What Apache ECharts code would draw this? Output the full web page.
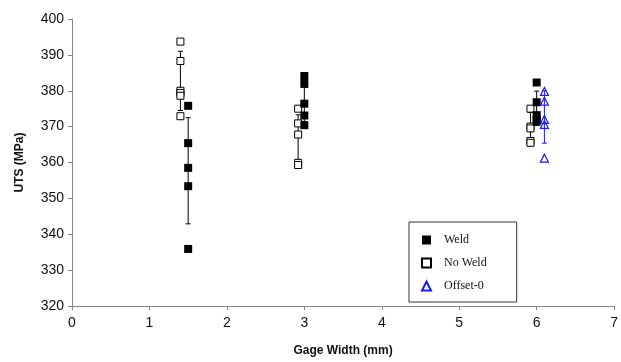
<!DOCTYPE html>
<html>
<head>
<meta charset="utf-8">
<script src="https://cdn.jsdelivr.net/npm/echarts@6/dist/echarts.min.js"></script>
<style>html,body{margin:0;padding:0;background:#fff;}#c{width:621px;height:362px;}</style>
</head>
<body>
<div id="c"></div>
<script>
// Data
const weldX = [1.5, 3.0, 6.0];
const weld15 = [375.8, 365.4, 358.5, 353.4, 335.9];
const weld30 = [384.1, 381.9, 376.4, 373.1, 370.4];
const weld60 = [382.3, 376.8, 373.2, 372.0, 371.4];
const weldBarLow = [342.9, 371.4, 370.3];
const weldBarHigh = [372.5, 383.0, 379.9];

const noWeldX = [1.4, 2.92, 5.92];
const noWeld14 = [393.7, 388.3, 380.0, 379.4, 378.6, 372.9];
const noWeld29 = [375.0, 370.9, 367.8, 359.9, 359.3];
const noWeld59 = [375.0, 370.0, 369.5, 366.0, 365.5];
const noWeldBarLow = [374.5, 359.8, 365.5];
const noWeldBarHigh = [391.0, 373.3, 374.0];

const offsetX = [6.1];
const offset61 = [379.8, 377.1, 372.0, 370.6, 361.2];
const offsetBarLow = [365.4];
const offsetBarHigh = [380.0];

const xTicks = [0, 1, 2, 3, 4, 5, 6, 7];
const yTicks = [320, 330, 340, 350, 360, 370, 380, 390, 400];

function pts(xs, groups) {
  const out = [];
  groups.forEach((g, i) => g.forEach(v => out.push([xs[i], v])));
  return out;
}
function bars(xs, lo, hi) {
  return xs.map((x, i) => [x, lo[i], hi[i]]);
}
function errRender(color) {
  return function (params, api) {
    const x = api.value(0);
    const lo = api.coord([x, api.value(1)]);
    const hi = api.coord([x, api.value(2)]);
    const w = 2.5;
    const st = { stroke: color, lineWidth: 1 };
    return {
      type: 'group',
      children: [
        { type: 'line', shape: { x1: lo[0], y1: lo[1], x2: hi[0], y2: hi[1] }, style: st },
        { type: 'line', shape: { x1: lo[0] - w, y1: lo[1], x2: lo[0] + w, y2: lo[1] }, style: st },
        { type: 'line', shape: { x1: hi[0] - w, y1: hi[1], x2: hi[0] + w, y2: hi[1] }, style: st }
      ]
    };
  };
}

const blue = '#1a1aff';
const chart = echarts.init(document.getElementById('c'), null, { renderer: 'canvas' });
chart.setOption({
  animation: false,
  backgroundColor: '#fff',
  grid: { left: 72, right: 6, top: 19, bottom: 52 },
  xAxis: {
    type: 'value', min: xTicks[0], max: xTicks[xTicks.length - 1], interval: 1,
    name: 'Gage Width (mm)', nameLocation: 'middle', nameGap: 39,
    nameTextStyle: { fontFamily: 'Liberation Sans', fontWeight: 'bold', fontSize: 12, color: '#111' },
    axisLine: { lineStyle: { color: '#888', width: 1 } },
    axisTick: { show: true, length: 4, lineStyle: { color: '#888' } },
    axisLabel: { fontFamily: 'Liberation Sans', fontSize: 14, color: '#111', margin: 10 },
    splitLine: { show: false }
  },
  yAxis: {
    type: 'value', min: yTicks[0], max: yTicks[yTicks.length - 1], interval: 10,
    name: 'UTS (MPa)', nameLocation: 'middle', nameGap: 46, nameRotate: 90,
    nameTextStyle: { fontFamily: 'Liberation Sans', fontWeight: 'bold', fontSize: 12, color: '#111' },
    axisLine: { show: true, lineStyle: { color: '#888', width: 1 } },
    axisTick: { show: true, length: 4, lineStyle: { color: '#888' } },
    axisLabel: { fontFamily: 'Liberation Sans', fontSize: 14, color: '#111', margin: 8 },
    splitLine: { show: false }
  },
  legend: {
    orient: 'vertical', left: 409, top: 222,
    padding: [12, 30, 10, 12], itemGap: 11,
    borderColor: '#333', borderWidth: 1, backgroundColor: '#fff',
    itemWidth: 9, itemHeight: 9,
    textStyle: { fontFamily: 'Liberation Serif', fontSize: 12, color: '#111', padding: [0, 0, 0, 8] },
    data: ['Weld', 'No Weld', 'Offset-0']
  },
  series: [
    { type: 'custom', name: 'weldBars', renderItem: errRender('#000'), data: bars(weldX, weldBarLow, weldBarHigh), encode: { x: 0, y: [1, 2] }, z: 1, silent: true },
    { type: 'custom', name: 'noWeldBars', renderItem: errRender('#000'), data: bars(noWeldX, noWeldBarLow, noWeldBarHigh), encode: { x: 0, y: [1, 2] }, z: 1, silent: true },
    { type: 'custom', name: 'offsetBars', renderItem: errRender(blue), data: bars(offsetX, offsetBarLow, offsetBarHigh), encode: { x: 0, y: [1, 2] }, z: 1, silent: true },
    {
      type: 'scatter', name: 'No Weld', symbol: 'rect', symbolSize: 7,
      itemStyle: { color: '#fff', borderColor: '#000', borderWidth: 1, opacity: 1 },
      data: pts(noWeldX, [noWeld14, noWeld29, noWeld59]), z: 3
    },
    {
      type: 'scatter', name: 'Weld', symbol: 'rect', symbolSize: 8,
      itemStyle: { color: '#000', borderColor: '#000', borderWidth: 0, opacity: 1 },
      data: pts(weldX, [weld15, weld30, weld60]), z: 4
    },
    {
      type: 'scatter', name: 'Offset-0', symbol: 'triangle', symbolSize: 8,
      itemStyle: { color: 'rgba(255,255,255,0)', borderColor: blue, borderWidth: 1.2, opacity: 1 },
      data: pts(offsetX, [offset61]), z: 5
    }
  ]
});
</script>
</body>
</html>
